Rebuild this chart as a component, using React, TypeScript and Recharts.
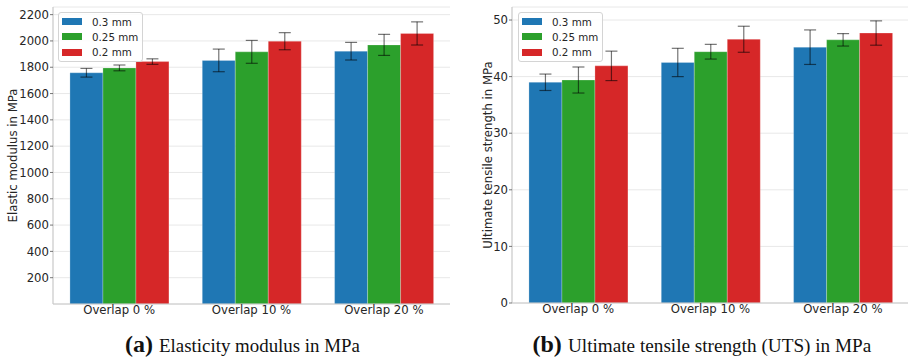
import React from 'react';
import { BarChart, Bar, XAxis, YAxis, CartesianGrid, ErrorBar, Legend } from 'recharts';

const overlaps = ['Overlap 0 %', 'Overlap 10 %', 'Overlap 20 %'];
const layerHeights = ['0.3 mm', '0.25 mm', '0.2 mm'];
const layerColors = ['#1f77b4', '#2ca02c', '#d62728'];

// elastic modulus in MPa: mean and standard deviation per layer height
const modulus03 = [1758, 1852, 1922];
const modulus025 = [1795, 1917, 1970];
const modulus02 = [1843, 1998, 2057];
const modulusStd03 = [33, 86, 67];
const modulusStd025 = [22, 87, 80];
const modulusStd02 = [21, 65, 88];

// ultimate tensile strength in MPa
const uts03 = [39.0, 42.5, 45.2];
const uts025 = [39.4, 44.4, 46.5];
const uts02 = [41.9, 46.6, 47.7];
const utsStd03 = [1.45, 2.5, 3.05];
const utsStd025 = [2.3, 1.3, 1.1];
const utsStd02 = [2.6, 2.3, 2.15];

const modulusTicks = [200, 400, 600, 800, 1000, 1200, 1400, 1600, 1800, 2000, 2200];
const utsTicks = [0, 10, 20, 30, 40, 50];

const FONT = '"DejaVu Sans", sans-serif';
const TEXT = '#262626';
const SPINE = '#c8c8c8';
const GRID = '#e8e8e8';

const buildRows = (means: number[][], stds: number[][]) =>
  overlaps.map((name, i) => ({
    name,
    m0: means[0][i],
    m1: means[1][i],
    m2: means[2][i],
    s0: stds[0][i],
    s1: stds[1][i],
    s2: stds[2][i],
  }));

const modulusRows = buildRows([modulus03, modulus025, modulus02], [modulusStd03, modulusStd025, modulusStd02]);
const utsRows = buildRows([uts03, uts025, uts02], [utsStd03, utsStd025, utsStd02]);

const LegendBox = () => (
  <div
    style={{
      width: 85,
      height: 50,
      boxSizing: 'border-box',
      border: '1px solid #d4d4d4',
      borderRadius: 3,
      background: 'rgba(255,255,255,0.85)',
      padding: '1px 0 0 3px',
      fontFamily: FONT,
      fontSize: 10.3,
      color: TEXT,
    }}
  >
    {layerHeights.map((h, i) => (
      <div key={h} style={{ display: 'flex', alignItems: 'center', height: 15.3 }}>
        <span style={{ display: 'inline-block', width: 20, height: 7, background: layerColors[i], marginRight: 10 }} />
        <span>{h}</span>
      </div>
    ))}
  </div>
);

interface PanelProps {
  rows: ReturnType<typeof buildRows>;
  ticks: number[];
  domain: [number, number];
  yLabel: string;
  width: number;
  yAxisWidth: number;
  marginRight: number;
  marginBottom: number;
  labelOffset: number;
  rightSpine: boolean;
}

const Panel: React.FC<PanelProps> = ({ rows, ticks, domain, yLabel, width, yAxisWidth, marginRight, marginBottom, labelOffset, rightSpine }) => (
  <BarChart
    width={width}
    height={330}
    data={rows}
    margin={{ top: 7, right: marginRight, bottom: marginBottom, left: 0 }}
    barGap={0}
    barCategoryGap="12.8%"
  >
    <CartesianGrid vertical={false} stroke={GRID} strokeWidth={1} />
    <XAxis
      dataKey="name"
      height={20}
      tickLine={false}
      tickSize={0}
      tickMargin={2}
      axisLine={{ stroke: SPINE, strokeWidth: 1.2 }}
      tick={{ fontFamily: FONT, fontSize: 11.7, fill: TEXT }}
    />
    <XAxis xAxisId="top" orientation="top" height={0} tick={false} tickLine={false} axisLine={{ stroke: SPINE, strokeWidth: 1.2 }} />
    <YAxis
      width={yAxisWidth}
      domain={domain}
      ticks={ticks}
      interval={0}
      tickSize={3}
      tickMargin={1}
      tickLine={{ stroke: '#555', strokeWidth: 0.8 }}
      axisLine={{ stroke: SPINE, strokeWidth: 1.2 }}
      tick={{ fontFamily: FONT, fontSize: 11.7, fill: TEXT }}
      label={{
        value: yLabel,
        angle: -90,
        position: 'insideLeft',
        offset: labelOffset,
        style: { textAnchor: 'middle', fontFamily: FONT, fontSize: 11.7, fill: TEXT },
      }}
    />
    {rightSpine && (
      <YAxis yAxisId="right" orientation="right" width={0} tick={false} tickLine={false} axisLine={{ stroke: SPINE, strokeWidth: 1.2 }} />
    )}
    <Legend
      layout="vertical"
      align="center"
      verticalAlign="middle"
      wrapperStyle={{ left: 58, top: 12, width: 85, height: 50 }}
      content={LegendBox}
    />
    {['m0', 'm1', 'm2'].map((key, i) => (
      <Bar
        key={key}
        dataKey={key}
        name={layerHeights[i]}
        fill={layerColors[i]}
        stroke="#ffffff"
        strokeOpacity={0.3}
        strokeWidth={0.8}
        isAnimationActive={false}
      >
        <ErrorBar dataKey={`s${i}`} width={6} stroke="#000000" strokeOpacity={0.55} strokeWidth={1.2} />
      </Bar>
    ))}
  </BarChart>
);

export default function App() {
  return (
    <div style={{ position: 'absolute', left: 0, top: 0, width: 908, height: 362, overflow: 'hidden', background: '#fff' }}>
      <div style={{ position: 'absolute', left: 0, top: 0 }}>
        <Panel
          rows={modulusRows}
          ticks={modulusTicks}
          domain={[0, 2258]}
          yLabel="Elastic modulus in MPa"
          width={460}
          yAxisWidth={53}
          marginRight={10}
          marginBottom={6}
          labelOffset={13}
          rightSpine
        />
      </div>
      <div style={{ position: 'absolute', left: 460, top: 0 }}>
        <Panel
          rows={utsRows}
          ticks={utsTicks}
          domain={[0, 52.3]}
          yLabel="Ultimate tensile strength in MPa"
          width={449}
          yAxisWidth={52}
          marginRight={0}
          marginBottom={7}
          labelOffset={28}
          rightSpine={false}
        />
      </div>
      <svg width={908} height={362} style={{ position: 'absolute', left: 0, top: 0, pointerEvents: 'none' }}>
        <g fontFamily='"Liberation Serif", serif' fill="#111">
          <text x={125} y={352} fontSize={24} fontWeight="bold">(a)</text>
          <text x={159} y={352} fontSize={18.9}>Elasticity modulus in MPa</text>
          <text x={532.5} y={352} fontSize={24} fontWeight="bold">(b)</text>
          <text x={568} y={352} fontSize={19.2}>Ultimate tensile strength (UTS) in MPa</text>
        </g>
      </svg>
    </div>
  );
}
